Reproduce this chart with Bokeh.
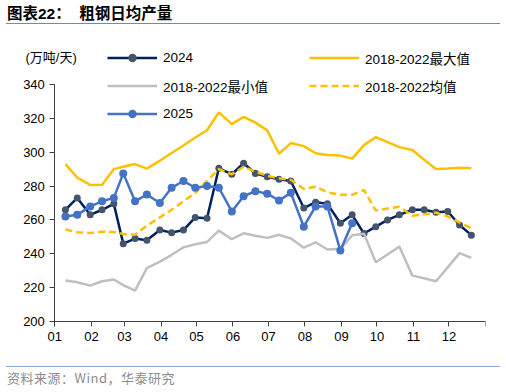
import pandas as pd
from bokeh.plotting import figure
from bokeh.models import Range1d, FixedTicker, Legend, LegendItem, Label, Div
from bokeh.layouts import column
from bokeh.embed import file_html
from bokeh.resources import INLINE

# ---------------- data ----------------
periods = ["01-10", "01-20", "01-31", "02-10", "02-20", "02-28",
           "03-10", "03-20", "03-31", "04-10", "04-20", "04-30",
           "05-10", "05-20", "05-31", "06-10", "06-20", "06-30",
           "07-10", "07-20", "07-31", "08-10", "08-20", "08-31",
           "09-10", "09-20", "09-30", "10-10", "10-20", "10-31",
           "11-10", "11-20", "11-30", "12-10", "12-20"]
months = ["01", "02", "03", "04", "05", "06", "07", "08", "09", "10", "11", "12"]
y_ticks = [200, 220, 240, 260, 280, 300, 320, 340]

s2024 = [266, 273, 263, 266, 269.5, 246, 249, 248, 254, 252.5, 254, 261.5,
         261, 290.5, 287, 293.5, 287.5, 285.5, 284, 283, 267, 270.5, 269.5, 258,
         263, 252, 256, 260, 263, 266, 266, 264.5, 265, 257, 251]
s2025 = [262, 263, 268, 271, 273, 287.5, 271, 275, 270, 279, 283, 279,
         280, 279, 265, 274, 277, 275.5, 271.5, 276, 256, 268, 268, 242, 258]
smax = [293, 285, 280.7, 280.8, 290, 291.4, 293, 290.3, 295, 299.5, 304, 308.7,
        313, 323.5, 316.6, 320.9, 317.5, 312.9, 299.1, 305.4, 303.6, 299.4, 298.4, 298,
        296.2, 304.2, 308.9, 306, 303, 301.3, 295.5, 290.1, 290.4, 290.8, 290.5]
smin = [224.2, 223.2, 221.2, 223.8, 224.8, 221.5, 218.2, 231.5, 235.3, 239.4, 243.8, 245.6,
        247, 253.7, 248.6, 252.1, 250.7, 249.4, 251.2, 249.1, 243.6, 246.8, 242.5, 243,
        250.9, 251.9, 235, 239.6, 244.3, 227.1, 225.5, 223.8, 232, 240.4, 237.6]
savg = [254.3, 252.7, 252.3, 253, 252.8, 251.7, 251.3, 256.6, 261.5, 266, 271, 276,
        283, 290, 287, 291.4, 288.5, 286.1, 284.6, 283.7, 278.3, 279.6, 276.3, 274.8,
        274.8, 277.7, 265.5, 266.8, 267.8, 262.5, 263.3, 264.3, 262, 258.6, 255]


def day_offset(mmdd):
    return int(pd.Timestamp("2023-" + mmdd).dayofyear) - 1


xs = [day_offset(d) for d in periods]
month_ticks = [day_offset(m + "-01") for m in months]
year_end = 365

FONT = "Liberation Sans, Noto Sans CJK SC"

# frame: page x 16..484.7, page y 40..352 ; axes drawn at x=0 (page 54.3) and y=200 (page 321)
PX_PER_DAY = 430.4 / 365.0
PX_PER_UNIT = 237.0 / 140.0
x_start = -(54.3 - 16.0) / PX_PER_DAY
y_end = 340 + (84.0 - 40.0) / PX_PER_UNIT
y_start = 200 - (352.0 - 321.0) / PX_PER_UNIT

p = figure(width=506, height=342, title=None,
           x_range=Range1d(x_start, year_end), y_range=Range1d(y_start, y_end),
           output_backend="svg", toolbar_location=None,
           min_border_left=16, min_border_right=21,
           min_border_top=16, min_border_bottom=14)
p.outline_line_color = None
p.grid.visible = False
p.background_fill_color = "white"
p.border_fill_color = "white"

for ax in (p.xaxis[0], p.yaxis[0]):
    ax.axis_line_color = "#404040"
    ax.axis_line_width = 1
    ax.major_tick_line_color = "#404040"
    ax.minor_tick_line_color = None
    ax.major_tick_in = 0
    ax.major_tick_out = 5
    ax.major_label_text_font_size = "13px"
    ax.major_label_text_font = FONT
    ax.major_label_text_color = "#000000"
    ax.major_label_standoff = 5

p.xaxis.ticker = FixedTicker(ticks=month_ticks + [year_end])
overrides = {t: m for t, m in zip(month_ticks, months)}
overrides[year_end] = ""
p.xaxis.major_label_overrides = overrides
p.xaxis.bounds = (0, year_end)
p.xaxis.fixed_location = 200
p.yaxis.ticker = FixedTicker(ticks=y_ticks)
p.yaxis.bounds = (200, 340)
p.yaxis.fixed_location = 0

# series (Excel order: later on top)
r24l = p.line(xs[:len(s2024)], s2024, line_color="#002060", line_width=2.5)
r24p = p.scatter(xs[:len(s2024)], s2024, size=7, fill_color="#44546A", line_color=None)
rmax = p.line(xs[:len(smax)], smax, line_color="#FFC000", line_width=2.5)
rmin = p.line(xs[:len(smin)], smin, line_color="#BFBFBF", line_width=2.5)
ravg = p.line(xs[:len(savg)], savg, line_color="#FFC000", line_width=2.5, line_dash="7 4")
r25l = p.line(xs[:len(s2025)], s2025, line_color="#4472C4", line_width=2.5)
r25p = p.scatter(xs[:len(s2025)], s2025, size=8, fill_color="#4472C4", line_color=None)

common = dict(padding=0, spacing=7, glyph_width=50, glyph_height=21, label_height=21,
              label_standoff=6, border_line_color=None, background_fill_alpha=0,
              margin=0, label_text_font_size="13.5px", label_text_font=FONT,
              label_text_color="#000000")

# legend locations are relative to the frame's bottom-left corner (page x 16, y 352)
leg1 = Legend(items=[LegendItem(label="2024", renderers=[r24l, r24p]),
                     LegendItem(label="2018-2022最小值", renderers=[rmin]),
                     LegendItem(label="2025", renderers=[r25l, r25p])],
              location=(91, 228), **common)
leg2 = Legend(items=[LegendItem(label="2018-2022最大值", renderers=[rmax]),
                     LegendItem(label="2018-2022均值", renderers=[ravg])],
              location=(293, 256), **common)
p.add_layout(leg1)
p.add_layout(leg2)

unit = Label(x=9, y=295, x_units="screen", y_units="screen", text="(万吨/天)",
             text_baseline="middle", text_align="left", text_font_size="13px",
             text_font=FONT, text_color="#000000")
p.add_layout(unit)

title_div = Div(width=506, height=24, margin=0, text=(
    '<div style="position:relative;width:506px;height:24px;">'
    '<div style="position:absolute;left:7px;top:6px;white-space:pre;'
    'font-family:\'Liberation Sans\',\'Noto Sans CJK SC\';font-weight:bold;'
    'font-size:15.5px;line-height:15px;color:#000;">图表22：  粗钢日均产量</div>'
    '<div style="position:absolute;left:6px;top:23px;width:494px;height:0;'
    'border-top:1.3px solid #6A8AC2;"></div></div>'))

source_div = Div(width=506, height=26, margin=0, text=(
    '<div style="position:relative;width:506px;height:26px;">'
    '<div style="position:absolute;left:6px;top:0px;width:494px;height:0;'
    'border-top:1px solid #8EA9DB;"></div>'
    '<div style="position:absolute;left:7px;top:4px;white-space:pre;'
    'font-family:\'Noto Sans CJK SC\';font-size:13px;line-height:16px;'
    'letter-spacing:0.5px;color:#8C8C8C;">资料来源：Wind，华泰研究</div></div>'))

layout = column(title_div, p, source_div, spacing=0)

with open("out.html", "w", encoding="utf-8") as f:
    f.write(file_html(layout, INLINE))
